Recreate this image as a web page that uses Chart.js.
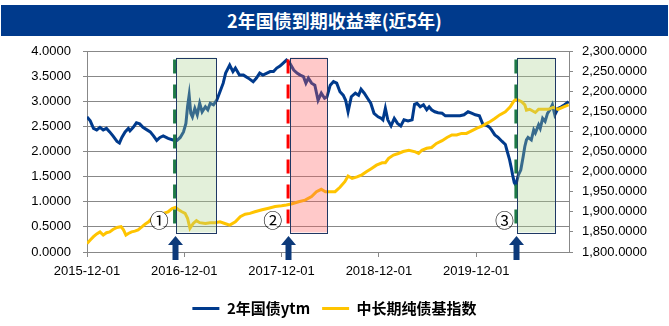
<!DOCTYPE html>
<html>
<head>
<meta charset="utf-8">
<script src="https://cdn.jsdelivr.net/npm/chart.js@4.4.1/dist/chart.umd.min.js"></script>
<style>
  body { margin: 0; background: #fff; }
  #wrap { position: relative; width: 669px; height: 326px; }
  #title { position: absolute; left: 1px; top: 5px; width: 667px; height: 31px; background: #003a8c; color: #fff;
           font: bold 18px 'Noto Sans CJK SC', sans-serif; text-align: center; line-height: 31px; }
  canvas { position: absolute; left: 0; top: 0; }
</style>
</head>
<body>
<div id="wrap">
  <canvas id="myChart" width="669" height="326"></canvas>
  <div id="title">2年国债到期收益率(近5年)</div>
</div>
<script>
// x values are months counted from 2015-12-01
var xTickMonths = [0, 12, 24, 36, 48];
var xTickLabels = ['2015-12-01', '2016-12-01', '2017-12-01', '2018-12-01', '2019-12-01'];
var seriesNames = ['2年国债ytm', '中长期纯债基指数'];

var ytmMonths = [
  0, 0.4, 0.8, 1.2, 1.6, 2.0, 2.4, 2.8, 3.2, 3.7,
  4.0, 4.3, 4.7, 5.1, 5.3, 5.7, 6.1, 6.5, 6.9, 7.4,
  7.8, 8.2, 8.6, 9.0, 9.4, 10.0, 10.6, 11.1, 11.5, 11.9,
  12.2, 12.4, 12.6, 12.8, 13.0, 13.3, 13.6, 13.9, 14.2, 14.6,
  14.9, 15.2, 15.6, 16.0, 16.4, 16.8, 17.1, 17.6, 18.0, 18.3,
  18.8, 19.3, 19.9, 20.5, 20.9, 21.3, 21.7, 22.2, 22.6, 23.0,
  23.4, 23.8, 24.2, 24.6, 25.0, 25.5, 25.9, 26.3, 26.7, 27.0,
  27.3, 27.7, 28.1, 28.5, 28.9, 29.3, 29.6, 30.0, 30.4, 30.8,
  31.2, 31.6, 31.9, 32.2, 32.6, 33.1, 33.5, 33.8, 34.2, 34.6,
  35.0, 35.4, 35.9, 36.3, 36.5, 36.8, 37.1, 37.5, 37.9, 38.3,
  38.7, 39.1, 39.6, 40.1, 40.4, 40.7, 41.1, 41.5, 41.9, 42.2,
  42.5, 42.9, 43.3, 43.8, 44.2, 44.8, 45.4, 46.0, 46.5, 47.0,
  47.5, 47.9, 48.4, 48.8, 49.2, 49.6, 49.9, 50.3, 50.7, 51.2,
  51.6, 51.8, 52.1, 52.3, 52.5, 52.7, 52.9, 53.0, 53.2, 53.5,
  53.8, 54.0, 54.2, 54.4, 54.8, 55.1, 55.3, 55.7, 55.9, 56.2,
  56.5, 56.8, 57.1, 57.4, 57.7, 58.1, 58.5, 58.9, 59.4
];
var ytmValues = [
  2.69, 2.61, 2.46, 2.43, 2.48, 2.43, 2.46, 2.39, 2.31, 2.20,
  2.17, 2.28, 2.39, 2.46, 2.41, 2.48, 2.57, 2.55, 2.48, 2.43,
  2.39, 2.31, 2.22, 2.28, 2.31, 2.26, 2.23, 2.22, 2.28, 2.39,
  2.56, 2.89, 3.12, 2.76, 2.69, 2.86, 2.73, 2.96, 2.79, 2.89,
  2.83, 2.96, 2.93, 3.02, 3.19, 3.36, 3.56, 3.72, 3.59, 3.66,
  3.52, 3.52, 3.46, 3.39, 3.46, 3.56, 3.52, 3.56, 3.59, 3.59,
  3.66, 3.70, 3.76, 3.82, 3.76, 3.62, 3.56, 3.52, 3.49, 3.36,
  3.46, 3.36, 3.32, 3.02, 3.16, 3.06, 3.09, 3.32, 3.39, 3.36,
  3.19, 3.12, 3.02, 2.79, 3.09, 3.16, 3.12, 3.24, 3.16, 3.06,
  2.96, 2.76, 2.69, 2.66, 2.63, 2.86, 2.63, 2.51, 2.66, 2.56,
  2.51, 2.63, 2.61, 2.63, 2.94, 2.96, 2.89, 2.93, 2.83, 2.89,
  2.83, 2.79, 2.77, 2.76, 2.71, 2.71, 2.71, 2.71, 2.73, 2.79,
  2.76, 2.73, 2.71, 2.55, 2.53, 2.49, 2.43, 2.33, 2.28, 2.20,
  2.14, 2.02, 1.85, 1.70, 1.53, 1.38, 1.33, 1.40, 1.53, 1.63,
  1.90, 2.10, 2.23, 2.28, 2.23, 2.43, 2.37, 2.53, 2.46, 2.66,
  2.60, 2.76, 2.83, 2.93, 2.73, 2.86, 2.89, 2.93, 2.99
];

var indexMonths = [
  0, 0.4, 0.8, 1.2, 1.6, 2.0, 2.4, 2.8, 3.2, 3.7,
  4.2, 4.5, 4.8, 5.1, 5.5, 5.9, 6.3, 6.8, 7.2, 7.6,
  8.0, 8.4, 8.8, 9.4, 10.0, 10.5, 10.9, 11.3, 11.7, 12.1,
  12.4, 12.7, 13.1, 13.5, 13.9, 14.6, 15.2, 15.8, 16.4, 17.0,
  17.6, 18.3, 18.9, 19.5, 20.1, 20.7, 21.6, 22.4, 23.2, 24.0,
  24.6, 25.3, 26.1, 26.9, 27.7, 28.3, 28.9, 29.4, 29.9, 30.6,
  31.2, 31.8, 32.2, 32.7, 33.3, 33.9, 34.5, 35.1, 35.7, 36.4,
  36.8, 37.2, 37.8, 38.4, 39.0, 39.7, 40.5, 40.9, 41.3, 41.9,
  42.5, 43.1, 43.8, 44.4, 45.0, 45.6, 46.2, 46.8, 47.5, 48.1,
  48.7, 49.3, 49.7, 50.3, 50.9, 51.6, 52.2, 52.6, 52.9, 53.2,
  53.6, 54.0, 54.2, 54.6, 55.3, 55.7, 56.3, 56.9, 57.5, 58.1,
  58.8, 59.4
];
var indexValues = [
  1821, 1830, 1838, 1845, 1850, 1842, 1848, 1850, 1856, 1861,
  1863, 1855, 1842, 1846, 1850, 1852, 1855, 1863, 1870, 1875,
  1884, 1888, 1892, 1896, 1900, 1908, 1911, 1905, 1900, 1896,
  1884, 1859, 1871, 1878, 1873, 1871, 1873, 1873, 1875, 1871,
  1867, 1875, 1888, 1894, 1896, 1900, 1905, 1909, 1913, 1915,
  1917, 1920, 1925, 1929, 1938, 1950, 1956, 1950, 1950, 1950,
  1961, 1975, 1989, 1983, 1987, 1992, 2000, 2008, 2016, 2022,
  2022, 2033, 2041, 2045, 2050, 2053, 2049, 2045, 2053, 2058,
  2060, 2070, 2077, 2085, 2091, 2091, 2095, 2095, 2102, 2108,
  2113, 2120, 2124, 2132, 2141, 2149, 2161, 2174, 2180, 2178,
  2174, 2166, 2153, 2155, 2147, 2155, 2155, 2155, 2160, 2155,
  2161, 2166
];

// marked events: dashed line, shaded window after it, circled label
var eventMonths = [10.8, 24.8, 52.9];
var boxFrom = [11.0, 25.0, 53.0];
var boxTo = [15.9, 29.6, 57.7];
var markMonths = [8.9, 22.9, 51.5];
var markLabels = ['①', '②', '③'];

var boxFills = ['rgba(169, 209, 142, 0.33)', 'rgba(255, 90, 90, 0.33)', 'rgba(169, 209, 142, 0.33)'];
var lineColors = ['#1e7a46', '#ff0000', '#1e7a46'];

function toPoints(xs, ys) {
  return xs.map(function (m, i) { return { x: m, y: ys[i] }; });
}

var eventPlugin = {
  id: 'eventBoxes',
  afterDatasetsDraw: function (chart) {
    var ctx = chart.ctx;
    var xs = chart.scales.x;
    var ys = chart.scales.y;
    var top = ys.getPixelForValue(3.87);
    var bottom = ys.getPixelForValue(0.39);
    ctx.save();
    for (var i = 0; i < eventMonths.length; i++) {
      var left = Math.round(xs.getPixelForValue(boxFrom[i]));
      var right = Math.round(xs.getPixelForValue(boxTo[i]));
      ctx.fillStyle = boxFills[i];
      ctx.fillRect(left, top, right - left, bottom - top);
      ctx.strokeStyle = '#1f3864';
      ctx.lineWidth = 1;
      ctx.strokeRect(left + 0.5, Math.round(top) + 0.5, right - left, Math.round(bottom - top));

      var lx = xs.getPixelForValue(eventMonths[i]);
      ctx.setLineDash([14, 11]);
      ctx.lineWidth = 3;
      ctx.strokeStyle = lineColors[i];
      ctx.beginPath();
      ctx.moveTo(lx, ys.getPixelForValue(3.83));
      ctx.lineTo(lx, bottom + 1);
      ctx.stroke();
      ctx.setLineDash([]);

      var cx = xs.getPixelForValue(markMonths[i]);
      var cy = ys.getPixelForValue(0.65);
      ctx.fillStyle = '#fff';
      ctx.beginPath();
      ctx.arc(cx, cy, 8.5, 0, Math.PI * 2);
      ctx.fill();
      ctx.fillStyle = '#000';
      ctx.font = '19px "Noto Sans CJK SC"';
      ctx.textAlign = 'center';
      ctx.textBaseline = 'middle';
      ctx.fillText(markLabels[i], cx, cy + 1);
    }
    ctx.restore();
  },
  afterDraw: function (chart) {
    // up arrows under each event line
    var ctx = chart.ctx;
    var xs = chart.scales.x;
    var base = chart.chartArea.bottom;
    ctx.save();
    ctx.fillStyle = '#0d3a7a';
    for (var i = 0; i < eventMonths.length; i++) {
      var ax = Math.round(xs.getPixelForValue(eventMonths[i])) + 0.5;
      ctx.beginPath();
      ctx.moveTo(ax, base - 16);
      ctx.lineTo(ax + 7.5, base - 7);
      ctx.lineTo(ax + 3, base - 7);
      ctx.lineTo(ax + 3, base + 8);
      ctx.lineTo(ax - 3, base + 8);
      ctx.lineTo(ax - 3, base - 7);
      ctx.lineTo(ax - 7.5, base - 7);
      ctx.closePath();
      ctx.fill();
    }
    ctx.restore();
  }
};

var tickFont = { family: "'Liberation Sans', Arial, sans-serif", size: 13 };

var ctx = document.getElementById('myChart').getContext('2d');
var chart = new Chart(ctx, {
  type: 'line',
  data: {
    datasets: [{
      label: seriesNames[0],
      data: toPoints(ytmMonths, ytmValues),
      yAxisID: 'y',
      borderColor: '#003a8c',
      backgroundColor: '#003a8c',
      borderWidth: 3,
      pointRadius: 0,
      order: 2
    }, {
      label: seriesNames[1],
      data: toPoints(indexMonths, indexValues),
      yAxisID: 'y1',
      borderColor: '#ffc400',
      backgroundColor: '#ffc400',
      borderWidth: 3,
      pointRadius: 0,
      order: 1
    }]
  },
  options: {
    responsive: false,
    animation: false,
    layout: { padding: { top: 51, left: 0, right: 0, bottom: 0 } },
    scales: {
      x: {
        type: 'linear',
        min: 0,
        max: 59.45,
        afterBuildTicks: function (scale) {
          scale.ticks = xTickMonths.map(function (v) { return { value: v }; });
        },
        afterFit: function (scale) { scale.height = 37; },
        grid: { drawOnChartArea: false, color: '#888', tickLength: 5 },
        border: { color: '#888' },
        ticks: {
          autoSkip: false,
          maxRotation: 0,
          color: '#000',
          font: tickFont,
          padding: 7,
          callback: function (value, index) { return xTickLabels[index]; }
        }
      },
      y: {
        position: 'left',
        min: 0,
        max: 4,
        afterFit: function (scale) { scale.width = 87; },
        grid: { color: '#888', tickLength: 4 },
        border: { color: '#888' },
        ticks: {
          stepSize: 0.5,
          color: '#000',
          font: tickFont,
          padding: 12,
          callback: function (value) { return value.toFixed(4); }
        }
      },
      y1: {
        position: 'right',
        min: 1800,
        max: 2300,
        afterFit: function (scale) { scale.width = 100; },
        grid: { drawOnChartArea: false, color: '#888', tickLength: 4 },
        border: { color: '#888' },
        ticks: {
          stepSize: 50,
          color: '#000',
          font: tickFont,
          padding: 9,
          callback: function (value) {
            return value.toLocaleString('en-US', { minimumFractionDigits: 4, maximumFractionDigits: 4 });
          }
        }
      }
    },
    plugins: {
      legend: {
        position: 'bottom',
        labels: {
          usePointStyle: true,
          pointStyle: 'line',
          pointStyleWidth: 27,
          color: '#000',
          padding: 12,
          font: { family: "'Noto Sans CJK SC', sans-serif", size: 15, weight: 'bold' },
          sort: function (a, b) { return a.datasetIndex - b.datasetIndex; }
        }
      },
      tooltip: { enabled: false }
    }
  },
  plugins: [eventPlugin]
});
</script>
</body>
</html>
